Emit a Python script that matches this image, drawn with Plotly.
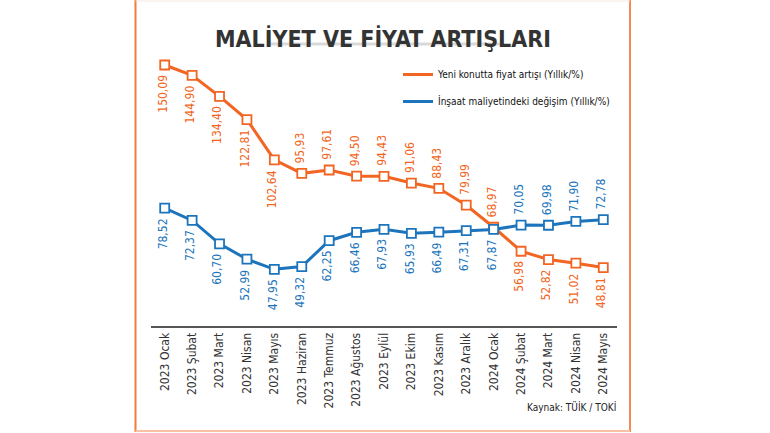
import plotly.graph_objects as go

months = ["2023 Ocak", "2023 Şubat", "2023 Mart", "2023 Nisan", "2023 Mayıs", "2023 Haziran",
          "2023 Temmuz", "2023 Ağustos", "2023 Eylül", "2023 Ekim", "2023 Kasım", "2023 Aralık",
          "2024 Ocak", "2024 Şubat", "2024 Mart", "2024 Nisan", "2024 Mayıs"]
konut_fiyat = [150.09, 144.90, 134.40, 122.81, 102.64, 95.93, 97.61, 94.50, 94.43, 91.06,
               88.43, 79.99, 68.97, 56.98, 52.82, 51.02, 48.81]
insaat_maliyet = [78.52, 72.37, 60.70, 52.99, 47.95, 49.32, 62.25, 66.46, 67.93, 65.93,
                  66.49, 67.31, 67.87, 70.05, 69.98, 71.90, 72.78]
konut_label_above = [False]*5 + [True]*8 + [False]*4
insaat_label_above = [False]*13 + [True]*4

ORANGE = "#F26522"
BLUE = "#1C75BC"
FONT = "Liberation Sans Narrow, DejaVu Sans Condensed, Arial Narrow, sans-serif"

fig = go.Figure()
for vals, col in [(konut_fiyat, ORANGE), (insaat_maliyet, BLUE)]:
    fig.add_trace(go.Scatter(
        x=months, y=vals, mode="lines+markers", showlegend=False,
        line=dict(color=col, width=3),
        marker=dict(symbol="square", size=9, color="white", line=dict(color=col, width=1.8)),
        hoverinfo="skip"))

fig.add_trace(go.Scatter(x=[None], y=[None], mode="lines", line=dict(color=ORANGE, width=3),
                         name="Yeni konutta fiyat artışı (Yıllık/%)", legendgroup="a"))
fig.add_trace(go.Scatter(x=[None], y=[None], mode="lines", line=dict(color=BLUE, width=3),
                         name="İnşaat maliyetindeki değişim (Yıllık/%)", legendgroup="b"))

annotations = []
for vals, above, col in [(konut_fiyat, konut_label_above, ORANGE),
                         (insaat_maliyet, insaat_label_above, BLUE)]:
    for m, v, a in zip(months, vals, above):
        annotations.append(dict(
            x=m, y=v, xref="x", yref="y", text=f"{v:.2f}".replace(".", ","),
            showarrow=False, textangle=-90,
            yanchor="bottom" if a else "top", yshift=8 if a else -8, xshift=-2,
            font=dict(family=FONT, size=12, color=col)))

L, R, T, B = 151, 153, 40, 107
PW, PH = 770 - L - R, 433 - T - B

def px_x(p): return (p - L) / PW
def px_y(p): return (433 - B - p) / PH

annotations.append(dict(x=px_x(383), y=px_y(23), xref="paper", yref="paper",
                        text="<b>MALİYET VE FİYAT ARTIŞLARI</b>", showarrow=False,
                        font=dict(family=FONT, size=23, color="#333333")))
annotations.append(dict(x=px_x(618), y=px_y(415), xref="paper", yref="paper",
                        text="Kaynak: TÜİK / TOKİ", showarrow=False, xanchor="right",
                        font=dict(family=FONT, size=10, color="#222222")))

shapes = [
    dict(type="line", xref="paper", yref="paper", x0=px_x(135.5), x1=px_x(135.5), y0=px_y(0), y1=px_y(432),
         line=dict(color="#F47A3A", width=2)),
    dict(type="line", xref="paper", yref="paper", x0=px_x(630), x1=px_x(630), y0=px_y(0), y1=px_y(432),
         line=dict(color="#F58A55", width=2)),
    dict(type="line", xref="paper", yref="paper", x0=px_x(135.5), x1=px_x(630), y0=px_y(431), y1=px_y(431),
         line=dict(color="#F9C2A5", width=2)),
    dict(type="line", xref="paper", yref="paper", x0=px_x(135.5), x1=px_x(630), y0=px_y(1), y1=px_y(1),
         line=dict(color="#F4E8E2", width=1)),
    dict(type="line", xref="paper", yref="paper", x0=px_x(270), x1=px_x(500), y0=px_y(44), y1=px_y(44),
         line=dict(color="rgba(0,0,0,0.15)", width=3)),
]

fig.update_layout(
    width=770, height=433,
    margin=dict(l=L, r=R, t=T, b=B),
    paper_bgcolor="white", plot_bgcolor="white",
    annotations=annotations, shapes=shapes,
    legend=dict(x=px_x(398), y=px_y(60), xanchor="left", yanchor="top",
                font=dict(family=FONT, size=10, color="#111111"),
                bgcolor="rgba(0,0,0,0)", tracegroupgap=8, itemwidth=30),
    xaxis=dict(type="category", range=[-0.5, 16.5], showgrid=False, zeroline=False,
               showline=True, linecolor="#555555", linewidth=2, ticks="",
               tickangle=-90, tickfont=dict(family=FONT, size=12, color="#333333")),
    yaxis=dict(range=[19.6, 162.6], visible=False, showgrid=False, zeroline=False),
)

fig.write_html("out.html", config={"displayModeBar": False},
               post_script="document.body.style.margin='0px';")
